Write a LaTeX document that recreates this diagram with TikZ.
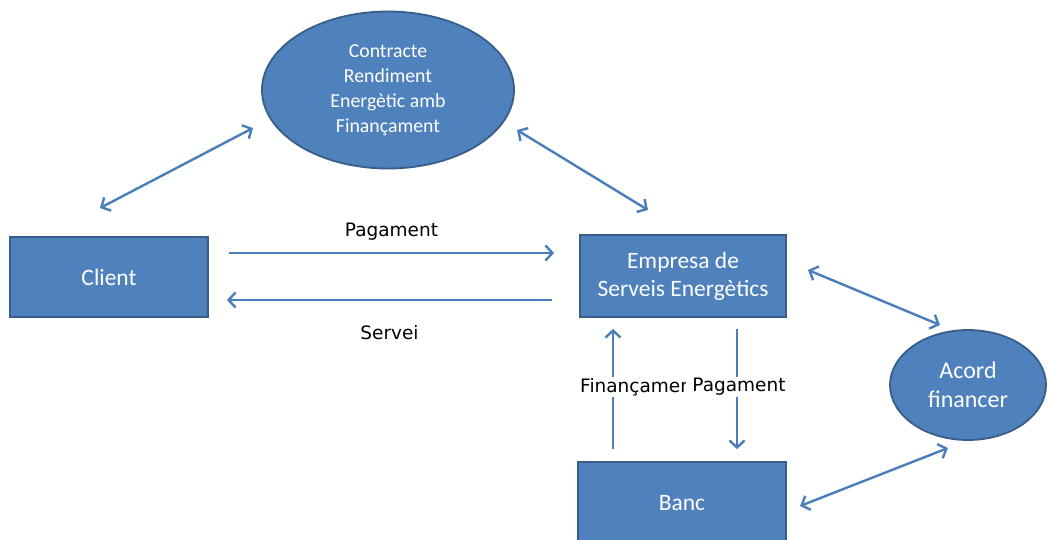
\documentclass[tikz,border=0pt]{standalone}
\usepackage{fontspec}
\setmainfont{Carlito}
\newfontfamily\lblfont{DejaVu Sans}
\usetikzlibrary{arrows.meta,calc,shapes.geometric}
\definecolor{boxfill}{HTML}{4F81BD}
\definecolor{boxline}{HTML}{385D8A}
\definecolor{arrcol}{HTML}{4A7EBB}
\tikzset{
  box/.style={draw=boxline, line width=1.8pt, fill=boxfill, text=white, align=center, font=\fontsize{23.5}{28}\selectfont},
  oval/.style={ellipse, draw=boxline, line width=1.8pt, fill=boxfill, text=white, align=center, inner sep=0pt},
  arr/.style={draw=arrcol, line width=2.4pt, -{Straight Barb[length=7pt,width=15pt,line width=2.4pt]}},
  darr/.style={draw=arrcol, line width=2.4pt, {Straight Barb[length=7pt,width=15pt,line width=2.4pt]}-{Straight Barb[length=7pt,width=15pt,line width=2.4pt]}},
  lbl/.style={font=\lblfont\fontsize{18.5}{22}\selectfont, text=black, inner sep=1pt},
}
\begin{document}
\begin{tikzpicture}[x=1pt,y=-1pt]
\clip (0,0) rectangle (1049,539);
\fill[white] (0,0) rectangle (1049,539);
% nodes
\node[oval, minimum width=252pt, minimum height=157pt, font=\fontsize{19.8}{25}\selectfont] (contract) at (388,90) {Contracte\\Rendiment\\Energètic amb\\Finançament};
\node[box, minimum width=198pt, minimum height=80pt] (client) at (109,277) {Client};
\node[box, minimum width=206pt, minimum height=82pt] (ese) at (683,276) {Empresa de\\Serveis Energètics};
\node[box, minimum width=208pt, minimum height=82pt] (banc) at (682,503) {Banc};
\node[oval, minimum width=156pt, minimum height=110pt, font=\fontsize{24}{29}\selectfont] (acord) at (968,385) {Acord\\financer};
% coordinates for free ends
\coordinate (c1) at (100,208);
\coordinate (c2) at (253,128);
\coordinate (c3) at (517,130);
\coordinate (c4) at (648,210);
\coordinate (c5) at (808,270);
\coordinate (c6) at (940,325);
\coordinate (c7) at (800,506);
\coordinate (c8) at (948,448);
% connectors
\draw[darr] (c1) -- (c2);
\draw[darr] (c3) -- (c4);
\draw[darr] (c5) -- (c6);
\draw[darr] (c7) -- (c8);
\draw[arr] ($(client.east)+(20,-24)$) -- ($(ese.west)+(-25,-23)$) node[lbl, midway, above=10pt] {Pagament};
\draw[arr] ($(ese.west)+(-27,24)$) -- ($(client.east)+(18,23)$) node[lbl, midway, below=23pt] {Servei};
\draw[arr] ($(banc.north)+(-69,-12)$) -- ($(ese.south)+(-70,11)$);
\draw[arr] ($(ese.south)+(54,11)$) -- ($(banc.north)+(55,-12)$);
\node[lbl, fill=white, anchor=west, inner xsep=0pt] (finlbl) at (580,387) {Finançament};
\node[lbl, fill=white, inner xsep=6.5pt] (paglbl) at (739,387) {Pagament};
\end{tikzpicture}
\end{document}
